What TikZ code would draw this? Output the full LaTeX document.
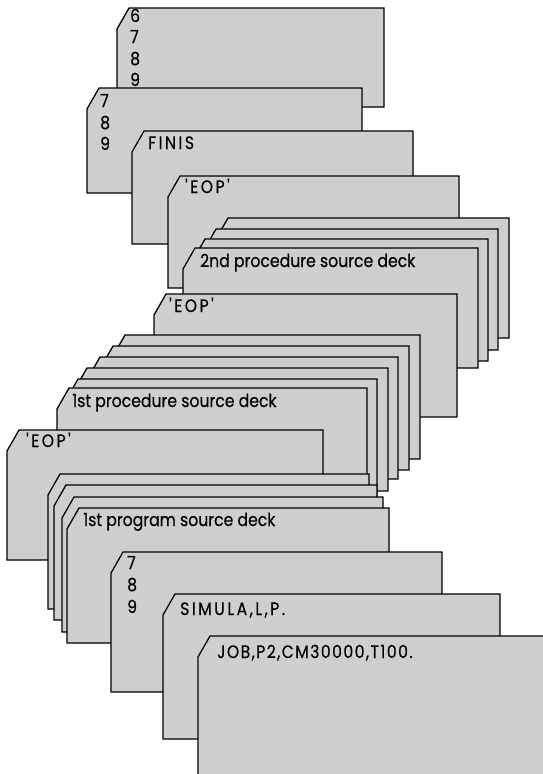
\documentclass[tikz,border=0pt]{standalone}
\usepackage{fontspec}
\newfontfamily\cardfont{Poppins}[FakeStretch=0.87,FakeBold=0.4]
\definecolor{cardgray}{gray}{0.81}
\tikzset{
  card/.style={draw=black,fill=cardgray,line width=1.3pt,line join=miter},
  cardtext/.style={anchor=base west,inner sep=0pt,font=\cardfont\fontsize{18}{21}\selectfont},
  capstext/.style={cardtext,font=\cardfont\fontsize{18}{21}\selectfont\addfontfeature{LetterSpace=14}},
  jobtext/.style={cardtext,font=\cardfont\fontsize{18}{21}\selectfont\addfontfeature{LetterSpace=8}}
}
\newcommand\punchcard[4]{\path[card] (#1,#2+21) -- (#1+12,#2) -- (#3,#2) -- (#3,#4) -- (#1,#4) -- cycle;}
\begin{document}
\begin{tikzpicture}[x=1pt,y=-1pt]
\useasboundingbox (0,0) rectangle (543,774);
\clip (0,0) rectangle (543,774);
% card A
\punchcard{117}{8}{384}{107}
\node[cardtext] (a6) at (130,22) {6};
\node[cardtext] (a7) at (130,43) {7};
\node[cardtext] (a8) at (130,65) {8};
\node[cardtext] (a9) at (130,86) {9};
% card B
\punchcard{87}{88}{362}{193}
\node[cardtext] (b7) at (100,107) {7};
\node[cardtext] (b8) at (100,129) {8};
\node[cardtext] (b9) at (100,150) {9};
% card C
\punchcard{132}{131}{413}{244}
\node[capstext] (finis) at (148,149) {FINIS};
% card D
\punchcard{168}{176}{459}{288}
\node[capstext] (eop1) at (185,193) {'EOP'};
% 2nd procedure deck
\punchcard{216}{218}{509}{338}
\punchcard{204}{229}{498}{350}
\punchcard{193}{239}{488}{361}
\punchcard{183}{248}{478}{368}
\node[cardtext] (proc2) at (200,267) {2nd procedure source deck};
% card E
\punchcard{154}{294}{457}{417}
\node[capstext] (eop2) at (169,312) {'EOP'};
% 1st procedure deck
\punchcard{113}{335}{420}{459}
\punchcard{101}{346}{409}{470}
\punchcard{88}{357}{398}{479}
\punchcard{75}{368}{388}{491}
\punchcard{66}{379}{377}{503}
\punchcard{57}{388}{367}{512}
\node[cardtext] (proc1) at (72,407) {1st procedure source deck};
% EOP 3
\punchcard{7}{430}{323}{560}
\node[capstext] (eop3) at (26,447) {'EOP'};
% 1st program deck
\punchcard{48}{474}{369}{609}
\punchcard{54}{485}{377}{620}
\punchcard{62}{497}{383}{632}
\punchcard{67}{508}{389}{643}
\node[cardtext] (prog1) at (83,526) {1st program source deck};
% card F
\punchcard{111}{552}{442}{692}
\node[cardtext] (f7) at (127,569) {7};
\node[cardtext] (f8) at (127,591) {8};
\node[cardtext] (f9) at (127,613) {9};
% card G
\punchcard{163}{594}{500}{739}
\node[capstext] (simula) at (180,615) {SIMULA,L,P.};
% card H
\punchcard{198}{636}{560}{800}
\node[jobtext] (job) at (217,658) {JOB,P2,CM30000,T100.};
\end{tikzpicture}
\end{document}
